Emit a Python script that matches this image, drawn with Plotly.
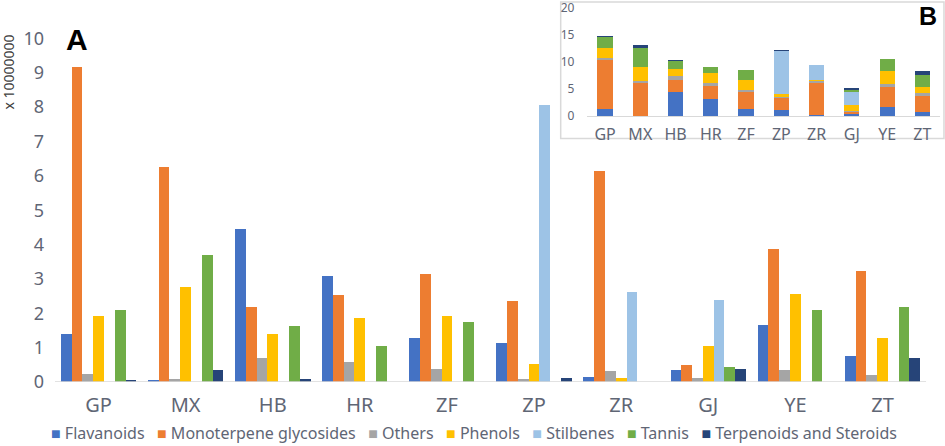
import plotly.graph_objects as go

# sample sites (x categories)
sites = ["GP", "MX", "HB", "HR", "ZF", "ZP", "ZR", "GJ", "YE", "ZT"]

# peak area per compound class, x 10000000
flavanoids = [1.39, 0.04, 4.44, 3.08, 1.29, 1.14, 0.16, 0.36, 1.66, 0.76]
monoterpene_glycosides = [9.16, 6.26, 2.19, 2.54, 3.14, 2.37, 6.14, 0.49, 3.86, 3.22]
others = [0.22, 0.10, 0.69, 0.57, 0.37, 0.10, 0.31, 0.12, 0.35, 0.20]
phenols = [1.91, 2.76, 1.39, 1.85, 1.93, 0.52, 0.13, 1.05, 2.55, 1.28]
stilbenes = [0, 0, 0, 0, 0, 8.05, 2.63, 2.40, 0, 0]
tannis = [2.11, 3.69, 1.64, 1.05, 1.76, 0, 0, 0.44, 2.09, 2.19]
terpenoids_steroids = [0.06, 0.34, 0.08, 0, 0, 0.13, 0, 0.37, 0, 0.69]

series_names = ["Flavanoids", "Monoterpene glycosides", "Others", "Phenols",
                "Stilbenes", "Tannis", "Terpenoids and Steroids"]
series_values = [flavanoids, monoterpene_glycosides, others, phenols,
                 stilbenes, tannis, terpenoids_steroids]
colors = ["#4472C4", "#ED7D31", "#A5A5A5", "#FFC000",
          "#9DC3E6", "#70AD47", "#264478"]

main_ticks = list(range(0, 11))
inset_ticks = [0, 5, 10, 15, 20]

FONT = "Noto Sans"
TXT = "#5F6675"

fig = go.Figure()

# panel A: grouped bars, one offsetgroup per class
for name, vals, col in zip(series_names, series_values, colors):
    fig.add_trace(go.Bar(
        x=sites, y=vals, name=name, marker_color=col,
        marker_line_width=0, offsetgroup=name,
        xaxis="x", yaxis="y", showlegend=False,
    ))

# panel B: same data stacked in a single offsetgroup
for name, vals, col in zip(series_names, series_values, colors):
    fig.add_trace(go.Bar(
        x=sites, y=vals, name=name, marker_color=col,
        marker_line_width=0, offsetgroup="stack", width=0.43,
        xaxis="x2", yaxis="y2", showlegend=False,
    ))

# legend drawn as one line of text, colours taken from the series
legend_text = "   ".join(
    f"<span style='color:{c}'>■</span> {n}" for n, c in zip(series_names, colors)
)

fig.update_layout(
    width=945, height=446,
    margin=dict(l=55, r=5, t=2, b=64, autoexpand=False),
    paper_bgcolor="white", plot_bgcolor="white",
    barmode="stack", bargap=0.133,
    font=dict(family=FONT, color=TXT),
    xaxis=dict(
        domain=[0, 1], range=[-0.5, 9.66], type="category", automargin=False,
        showgrid=False, showline=False, zeroline=False, ticks="",
        tickfont=dict(size=20, color=TXT), ticklabelstandoff=9,
    ),
    yaxis=dict(
        domain=[0, 1], range=[0, 11.06], tickvals=main_ticks, automargin=False,
        showgrid=False, showline=False, zeroline=False, ticks="",
        tickfont=dict(size=18, color=TXT), ticklabelstandoff=10,
    ),
    xaxis2=dict(
        domain=[0.6016, 1.0], anchor="y2", type="category", automargin=False,
        showgrid=False, showline=True, linecolor="#D9D9D9", linewidth=1,
        zeroline=False, ticks="",
        tickfont=dict(size=16, color=TXT), ticklabelstandoff=4,
    ),
    yaxis2=dict(
        domain=[0.70, 0.9855], anchor="x2", range=[0, 20.1], tickvals=inset_ticks,
        automargin=False, showgrid=False, showline=False, zeroline=False, ticks="",
        tickfont=dict(size=12, color=TXT), ticklabelstandoff=12,
        ticklabeloverflow="allow",
    ),
    shapes=[
        # inset frame
        dict(type="rect", xref="paper", yref="paper",
             x0=0.5714, x1=1.0045, y0=0.641, y1=1.0,
             fillcolor="white", line=dict(color="#D9D9D9", width=1.5),
             layer="below"),
        # main baseline
        dict(type="line", xref="x", yref="y",
             x0=-0.5, x1=len(sites) - 0.5, y0=0, y1=0,
             line=dict(color="#D9D9D9", width=1.5)),
    ],
    annotations=[
        dict(text="x 10000000", textangle=-90, xref="paper", yref="paper",
             x=-0.053, y=0.8145, xanchor="center", yanchor="middle",
             showarrow=False, font=dict(size=14, color="#404040", family=FONT)),
        dict(text="<b>A</b>", xref="paper", yref="paper", x=0.0249, y=0.90,
             xanchor="center", yanchor="middle", showarrow=False,
             font=dict(size=30, color="black", family="Liberation Sans")),
        dict(text="<b>B</b>", xref="paper", yref="paper", x=0.9864, y=0.963,
             xanchor="center", yanchor="middle", showarrow=False,
             font=dict(size=25, color="black", family="Liberation Sans")),
        dict(text=legend_text, xref="paper", yref="paper", x=0.4734, y=-0.134,
             xanchor="center", yanchor="middle", showarrow=False,
             font=dict(size=16, color=TXT, family=FONT)),
    ],
)

# drop the page's default body margin so the figure fills the window
fig.write_html("out.html", config={"displayModeBar": False},
               post_script="document.body.style.margin='0';")
